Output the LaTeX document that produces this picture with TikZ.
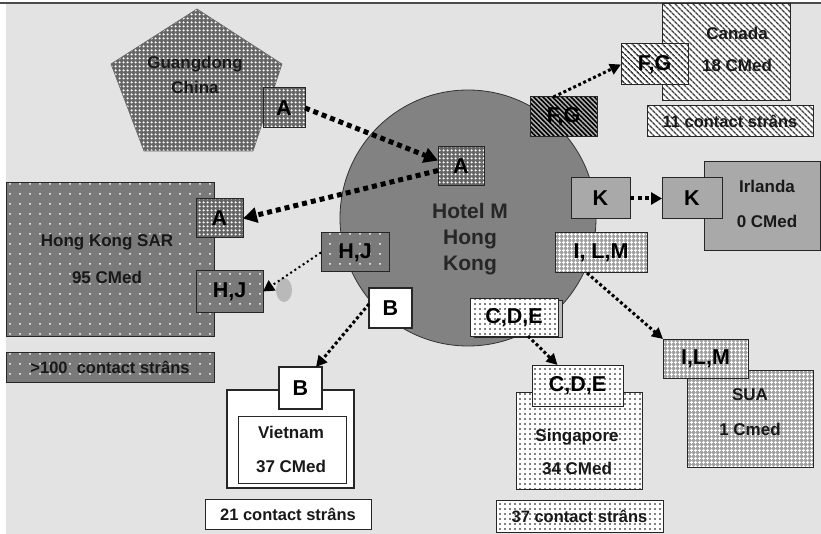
\documentclass[tikz,border=0pt]{standalone}
\usepackage{fontspec}
\setmainfont{Liberation Sans}
\usetikzlibrary{arrows.meta,patterns.meta}

\definecolor{bgcol}{HTML}{E3E3E3}
\definecolor{hotelgray}{HTML}{828282}
\definecolor{kgray}{HTML}{A9A9A9}
\definecolor{hkgray}{HTML}{7A7A7A}
\definecolor{cngray}{HTML}{666666}
\definecolor{usgray}{HTML}{A0A0A0}

\tikzset{
  sz/.style 2 args={minimum width=#1pt, minimum height=#2pt},
  base/.style={draw=black!85, line width=1pt, inner sep=0pt, outer sep=0pt, rectangle},
  lbl/.style={font=\fontsize{21.5}{24}\selectfont\bfseries},
  ctext/.style={font=\fontsize{17}{21}\selectfont\bfseries, text=black!90},
  stext/.style={font=\fontsize{16.5}{20}\selectfont\bfseries, text=black!90},
  % fills
  cnfill/.style={preaction={fill=cngray}, pattern={Dots[distance=4pt,radius=1.45pt]}, pattern color=white},
  lighthatch/.style={preaction={fill=white}, pattern={Lines[angle=-45,distance=4pt,line width=1.6pt]}, pattern color=black!75},
  darkhatch/.style={preaction={fill=gray!60}, pattern={Lines[angle=-45,distance=3.3pt,line width=1.6pt]}, pattern color=black},
  usfill/.style={preaction={fill=usgray}, pattern={Hatch[angle=0,distance=4pt,line width=1.1pt]}, pattern color=white},
  sgfill/.style={preaction={fill=white}, pattern={Dots[distance=5pt,radius=0.8pt]}, pattern color=black},
  hkfill/.style={preaction={fill=hkgray}, pattern={Dots[distance=10pt,radius=1pt]}, pattern color=white},
  % connectors
  bigarr/.style={line width=5pt, dash pattern=on 5pt off 4pt, -{Triangle[length=14pt,width=15pt]}},
  midarr/.style={line width=3pt, dash pattern=on 3pt off 2.5pt, -{Triangle[length=11pt,width=11pt]}},
  karr/.style={line width=4pt, dash pattern=on 4pt off 3.5pt, -{Triangle[length=11pt,width=12pt]}},
  thinarr/.style={line width=2pt, dash pattern=on 2pt off 3pt, -{Triangle[length=11pt,width=12pt]}},
}

\begin{document}
\begin{tikzpicture}[x=1pt,y=-1pt]
\useasboundingbox (0,0) rectangle (821,534);
% canvas
\fill[bgcol] (6,4) rectangle (821,534);
\draw[black!70, line width=1.5pt] (0,3) -- (821,3);

% hotel
\node[circle, draw=black!80, line width=0.8pt, fill=hotelgray, minimum size=256pt, inner sep=0pt] (hotel) at (468,218) {};
\node[font=\fontsize{21}{26}\selectfont\bfseries, text=black!85, align=center] (hoteltxt) at (470,239) {Hotel M\\Hong\\Kong};

% Guangdong
\draw[draw=black!60, line width=0.6pt, cnfill] (197,9) -- (282,64) -- (253,151) -- (144,151) -- (111,64) -- cycle;
\node[ctext] (gd1) at (195,64) {Guangdong};
\node[ctext] (gd2) at (195,87) {China};
\node[base, cnfill, sz={42}{40}, lbl] (aP) at (284,108) {A};

% Canada
\node[base, lighthatch, sz={128}{97}] (canada) at (726,52.5) {};
\node[ctext] (cantx1) at (737,33) {Canada};
\node[ctext] (cantx2) at (737,65) {18 CMed};
\node[base, lighthatch, sz={166}{31}, stext] (c11) at (730,121.5) {11 contact strâns};
\node[base, lighthatch, sz={67}{41}, lbl] (fgN) at (654.5,64.5) {F,G};

% Irlanda
\node[base, fill=kgray, sz={116}{89}] (irl) at (762,206.5) {};
\node[ctext] (irltx1) at (767,186) {Irlanda};
\node[ctext] (irltx2) at (767,221) {0 CMed};
\node[base, fill=kgray, sz={60}{41}, lbl] (kN) at (692,198.5) {K};

% SUA
\node[base, usfill, sz={126}{97}] (sua) at (750,418.5) {};
\node[ctext] (suatx1) at (750,395) {SUA};
\node[ctext] (suatx2) at (750,429) {1 Cmed};
\node[base, usfill, sz={85}{39}, lbl] (ilmN) at (705.5,358.5) {I,L,M};

% Singapore
\node[base, sgfill, sz={126}{97}] (sing) at (579,440.5) {};
\node[ctext] (sgtx1) at (577,437) {Singapore};
\node[ctext] (sgtx2) at (577,468) {34 CMed};
\node[base, sgfill, sz={167}{32}, stext] (c37) at (579.5,516) {37 contact strâns};
\node[base, sgfill, sz={91}{41}, lbl] (cdeN) at (577.5,385.5) {C,D,E};

% Vietnam
\node[base, fill=white, line width=2pt, sz={127}{98}] (viet) at (290.5,439) {};
\node[base, fill=white, sz={108}{67}] (vietin) at (292,449.5) {};
\node[ctext] (vttx1) at (291,432) {Vietnam};
\node[ctext] (vttx2) at (291,466) {37 CMed};
\node[base, fill=white, sz={166}{30}, stext] (c21) at (288,514) {21 contact strâns};
\node[base, fill=white, line width=2pt, sz={43}{42}, lbl] (bN) at (300.5,388) {B};

% Hong Kong SAR
\node[base, hkfill, sz={208}{153}] (hk) at (110,259.5) {};
\node[ctext] (hktx1) at (107,242) {Hong Kong SAR};
\node[ctext] (hktx2) at (107,277) {95 CMed};
\node[base, hkfill, sz={208}{30}, stext] (c100) at (110,367) {>100\ \ contact strâns};
\node[base, cnfill, sz={47}{39}, lbl] (aH) at (219.5,218.5) {A};
\node[base, hkfill, sz={67}{41}, lbl] (hjH) at (229.5,291.5) {H,J};
\fill[gray!55] (284,290) ellipse [x radius=8pt, y radius=12pt];

% boxes on the hotel
\node[base, cnfill, sz={46}{39}, lbl] (aC) at (461,166.5) {A};
\node[base, darkhatch, sz={67}{40}, lbl] (fgC) at (563.5,117) {F,G};
\node[base, fill=kgray, sz={59}{41}, lbl] (kC) at (600.5,198.5) {K};
\node[base, usfill, sz={92}{40}, lbl] (ilmC) at (601,253) {I, L,M};
\node[base, fill=gray!55, sz={88}{37}] (cdeS) at (518,319) {};
\node[base, sgfill, sz={88}{37}, lbl] (cdeC) at (514,317.5) {C,D,E};
\node[base, hkfill, sz={68}{39}, lbl] (hjC) at (355,252.5) {H,J};
\node[base, fill=white, line width=2pt, sz={43}{40}, lbl] (bC) at (390.5,308) {B};

% connectors
\draw[bigarr] (aP.east) -- ([yshift=6pt]aC.west);
\draw[bigarr] ([yshift=-4pt]aC.west) -- (aH.east);
\draw[midarr] ([xshift=-10pt]fgC.north) -- (fgN.west);
\draw[karr] (kC.east) -- (kN.west);
\draw[midarr] ([xshift=-14pt]ilmC.south) -- (ilmN.north west);
\draw[midarr] ([xshift=14pt]cdeC.south) -- ([xshift=-20pt]cdeN.north);
\draw[midarr] ([yshift=4pt]bC.west) -- ([xshift=-6pt]bN.north east);
\draw[thinarr] (hjC.west) -- (hjH.east);
\end{tikzpicture}
\end{document}
